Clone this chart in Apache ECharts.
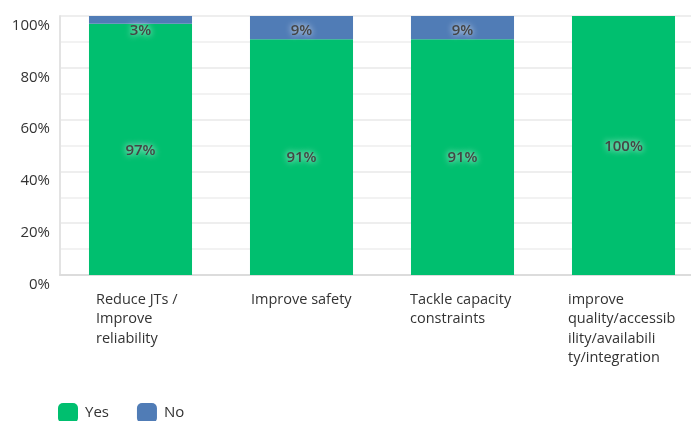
<!DOCTYPE html>
<html>
<head>
<meta charset="utf-8">
<script src="https://cdn.jsdelivr.net/npm/echarts@6/dist/echarts.min.js"></script>
<style>
  html, body { margin: 0; padding: 0; background: #fff; overflow: hidden; }
  /* the plot runs a little past the right edge of the view */
  #chart { width: 705px; height: 421px; }
</style>
</head>
<body>
<div id="chart"></div>
<script>
// Answer shares per objective (percent of respondents)
const categories = [
  'Reduce JTs / Improve reliability',
  'Improve safety',
  'Tackle capacity constraints',
  'improve quality/accessibility/availability/integration'
];
// Wrapped tick labels shown under each bar
const tickLabels = [
  ['Reduce JTs /', 'Improve', 'reliability'],
  ['Improve safety'],
  ['Tackle capacity', 'constraints'],
  ['improve', 'quality/accessib', 'ility/availabili', 'ty/integration']
];
const seriesNames = ['Yes', 'No'];
const yesValues = [97, 91, 91, 100];
const noValues = [3, 9, 9, 0];
const yTicks = [0, 20, 40, 60, 80, 100];

const FONT = '"Open Sans", "DejaVu Sans", sans-serif';
const TEXT = '#333333';
const CAT_FONT = 14.5;
// label box widths: the text block is centred on the tick and left-aligned inside
const labelBoxWidths = [89, 101, 105, 111];

const richStyles = {};
labelBoxWidths.forEach((w, i) => {
  richStyles['c' + i] = { width: w, align: 'left', color: TEXT, fontSize: CAT_FONT, lineHeight: 19.5, fontFamily: FONT };
});

const valueLabel = {
  show: true,
  color: '#454545',
  fontFamily: FONT,
  fontSize: 15,
  fontWeight: 600,
  textShadowColor: 'rgba(255,255,255,0.95)',
  textShadowBlur: 6,
  formatter: p => (p.value > 0 ? p.value + '%' : '')
};

const chart = echarts.init(document.getElementById('chart'), null, { renderer: 'canvas' });
chart.setOption({
  animation: false,
  textStyle: { fontFamily: FONT },
  grid: { left: 60, top: 16, width: 644, height: 259, containLabel: false },
  legend: {
    data: seriesNames,
    left: 58,
    top: 403,
    padding: 0,
    itemWidth: 20,
    itemHeight: 20,
    itemGap: 28,
    icon: 'roundRect',
    textStyle: { color: TEXT, fontSize: 15, fontFamily: FONT, padding: [0, 0, 0, 2] }
  },
  xAxis: {
    type: 'category',
    data: categories,
    axisLine: { show: true, lineStyle: { color: '#dcdcdc', width: 2 } },
    axisTick: { show: false },
    axisLabel: {
      interval: 0,
      margin: 15,
      color: TEXT,
      fontSize: CAT_FONT,
      fontFamily: FONT,
      lineHeight: 19.5,
      formatter: (v, i) => tickLabels[i].map(l => '{c' + i + '|' + l + '}').join('\n'),
      rich: richStyles
    }
  },
  yAxis: {
    type: 'value',
    min: yTicks[0],
    max: yTicks[yTicks.length - 1],
    interval: 20,
    axisLine: { show: true, lineStyle: { color: '#e3e3e3', width: 2 } },
    axisTick: { show: false },
    axisLabel: {
      color: TEXT,
      fontSize: 15,
      fontFamily: FONT,
      margin: 10,
      verticalAlign: 'top',
      padding: [2, 0, 0, 0],
      formatter: '{value}%'
    },
    splitLine: { show: true, lineStyle: { color: '#eeeeee', width: 2 } },
    minorTick: { show: false, splitNumber: 2 },
    minorSplitLine: { show: true, lineStyle: { color: '#f2f2f2', width: 2 } }
  },
  series: [
    {
      name: seriesNames[0],
      type: 'bar',
      stack: 'total',
      barWidth: '64%',
      data: yesValues,
      itemStyle: { color: '#00bf6f' },
      label: Object.assign({ position: 'inside', offset: [0, 1] }, valueLabel)
    },
    {
      name: seriesNames[1],
      type: 'bar',
      stack: 'total',
      barWidth: '64%',
      data: noValues,
      itemStyle: { color: '#507cb6' },
      label: Object.assign({ position: 'insideTop', distance: 7 }, valueLabel)
    }
  ]
});
</script>
</body>
</html>
